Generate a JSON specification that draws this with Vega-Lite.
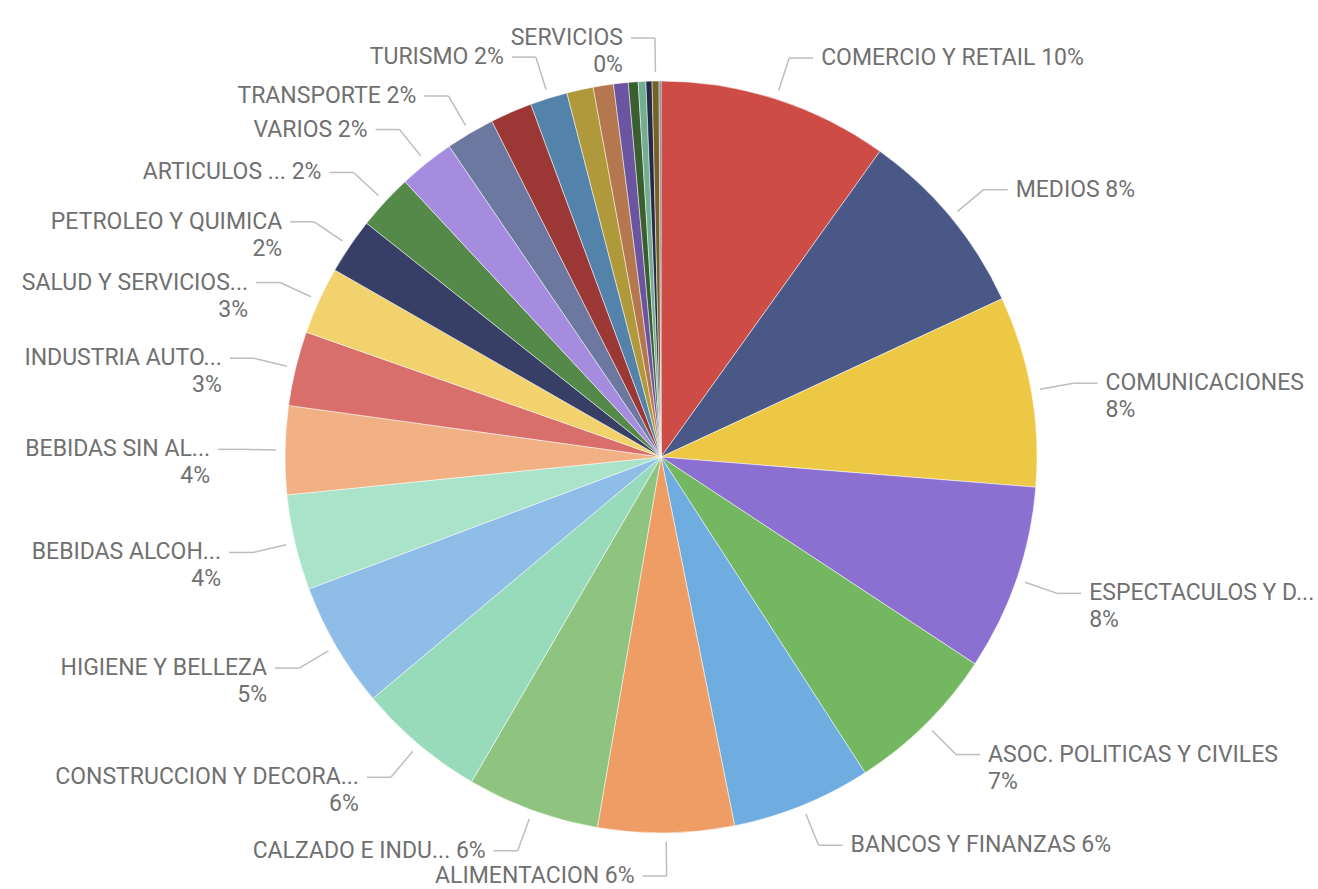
{
  "$schema": "https://vega.github.io/schema/vega-lite/v6.json",
  "width": 1318,
  "height": 889,
  "autosize": {"type": "none"},
  "padding": 0,
  "background": "white",
  "config": {"view": {"stroke": null}, "text": {"font": "Roboto"}},
  "data": {
    "values": [
      {"idx": 1, "name": "COMERCIO Y RETAIL", "value": 9.9, "label": "COMERCIO Y RETAIL 10%"},
      {"idx": 2, "name": "MEDIOS", "value": 8.2, "label": "MEDIOS 8%"},
      {"idx": 3, "name": "COMUNICACIONES", "value": 8.2, "label": "COMUNICACIONES\n8%"},
      {"idx": 4, "name": "ESPECTACULOS Y D...", "value": 8.0, "label": "ESPECTACULOS Y D...\n8%"},
      {"idx": 5, "name": "ASOC. POLITICAS Y CIVILES", "value": 6.6, "label": "ASOC. POLITICAS Y CIVILES\n7%"},
      {"idx": 6, "name": "BANCOS Y FINANZAS", "value": 6.0, "label": "BANCOS Y FINANZAS 6%"},
      {"idx": 7, "name": "ALIMENTACION", "value": 5.85, "label": "ALIMENTACION 6%"},
      {"idx": 8, "name": "CALZADO E INDU...", "value": 5.7, "label": "CALZADO E INDU... 6%"},
      {"idx": 9, "name": "CONSTRUCCION Y DECORA...", "value": 5.5, "label": "CONSTRUCCION Y DECORA...\n6%"},
      {"idx": 10, "name": "HIGIENE Y BELLEZA", "value": 5.4, "label": "HIGIENE Y BELLEZA\n5%"},
      {"idx": 11, "name": "BEBIDAS ALCOH...", "value": 4.1, "label": "BEBIDAS ALCOH...\n4%"},
      {"idx": 12, "name": "BEBIDAS SIN AL...", "value": 3.8, "label": "BEBIDAS SIN AL...\n4%"},
      {"idx": 13, "name": "INDUSTRIA AUTO...", "value": 3.2, "label": "INDUSTRIA AUTO...\n3%"},
      {"idx": 14, "name": "SALUD Y SERVICIOS...", "value": 2.9, "label": "SALUD Y SERVICIOS...\n3%"},
      {"idx": 15, "name": "PETROLEO Y QUIMICA", "value": 2.4, "label": "PETROLEO Y QUIMICA\n2%"},
      {"idx": 16, "name": "ARTICULOS ...", "value": 2.4, "label": "ARTICULOS ... 2%"},
      {"idx": 17, "name": "VARIOS", "value": 2.4, "label": "VARIOS 2%"},
      {"idx": 18, "name": "TRANSPORTE", "value": 2.1, "label": "TRANSPORTE 2%"},
      {"idx": 19, "name": "OTROS 1", "value": 1.8, "label": null},
      {"idx": 20, "name": "TURISMO", "value": 1.6, "label": "TURISMO 2%"},
      {"idx": 21, "name": "OTROS 2", "value": 1.14, "label": null},
      {"idx": 22, "name": "OTROS 3", "value": 0.87, "label": null},
      {"idx": 23, "name": "OTROS 4", "value": 0.63, "label": null},
      {"idx": 24, "name": "OTROS 5", "value": 0.42, "label": null},
      {"idx": 25, "name": "OTROS 6", "value": 0.33, "label": null},
      {"idx": 26, "name": "OTROS 7", "value": 0.26, "label": null},
      {"idx": 27, "name": "SERVICIOS", "value": 0.3, "label": "SERVICIOS\n0%"},
      {"idx": 28, "name": "OTROS 8", "value": 0.08, "label": null}
    ]
  },
  "transform": [
    {"joinaggregate": [{"op": "sum", "field": "value", "as": "total"}]},
    {"window": [{"op": "sum", "field": "value", "as": "cum"}], "sort": [{"field": "idx", "order": "ascending"}], "frame": [null, 0]},
    {"calculate": "2*PI*(datum.cum - datum.value/2)/datum.total", "as": "mid"},
    {"calculate": "datum.mid < 0.98*PI ? 1 : -1", "as": "side"},
    {"calculate": "661 + 385*sin(datum.mid)", "as": "sx"},
    {"calculate": "457 - 385*cos(datum.mid)", "as": "sy"},
    {"calculate": "661 + 419*sin(datum.mid)", "as": "ex"},
    {"calculate": "457 - 419*cos(datum.mid)", "as": "ey"},
    {"calculate": "datum.ex + 24*datum.side", "as": "hx"},
    {"calculate": "datum.hx + 8*datum.side", "as": "tx"}
  ],
  "layer": [
    {
      "mark": {"type": "arc", "outerRadius": 376, "stroke": "white", "strokeWidth": 0.5},
      "encoding": {
        "theta": {"field": "value", "type": "quantitative", "stack": true},
        "order": {"field": "idx", "type": "quantitative"},
        "color": {
          "field": "name",
          "type": "nominal",
          "legend": null,
          "scale": {
            "domain": ["COMERCIO Y RETAIL", "MEDIOS", "COMUNICACIONES", "ESPECTACULOS Y D...", "ASOC. POLITICAS Y CIVILES", "BANCOS Y FINANZAS", "ALIMENTACION", "CALZADO E INDU...", "CONSTRUCCION Y DECORA...", "HIGIENE Y BELLEZA", "BEBIDAS ALCOH...", "BEBIDAS SIN AL...", "INDUSTRIA AUTO...", "SALUD Y SERVICIOS...", "PETROLEO Y QUIMICA", "ARTICULOS ...", "VARIOS", "TRANSPORTE", "OTROS 1", "TURISMO", "OTROS 2", "OTROS 3", "OTROS 4", "OTROS 5", "OTROS 6", "OTROS 7", "SERVICIOS", "OTROS 8"],
            "range": ["#CD4C46", "#4A5888", "#ECC845", "#8C70D1", "#73B761", "#6FADE0", "#EE9E64", "#8FC480", "#97DBBB", "#8EBDE8", "#A9E3C9", "#F1B184", "#D86F6B", "#F1D26D", "#373F66", "#55894A", "#A68CDF", "#6C78A0", "#9B3735", "#5382AA", "#B0993A", "#B5774D", "#6B54A0", "#3A5E30", "#72AE92", "#242B48", "#766226", "#5A7A9A"]
          }
        },
        "x": {"datum": 661, "type": "quantitative", "scale": {"domain": [0, 1318], "nice": false, "zero": false}, "axis": null},
        "y": {"datum": 457, "type": "quantitative", "scale": {"domain": [0, 889], "reverse": true, "nice": false, "zero": false}, "axis": null}
      }
    },
    {
      "transform": [{"filter": "datum.label != null"}],
      "mark": {"type": "rule", "color": "#BDBDBD", "strokeWidth": 1.5},
      "encoding": {
        "x": {"field": "sx", "type": "quantitative", "scale": {"domain": [0, 1318], "nice": false, "zero": false}, "axis": null},
        "y": {"field": "sy", "type": "quantitative", "scale": {"domain": [0, 889], "reverse": true, "nice": false, "zero": false}, "axis": null},
        "x2": {"field": "ex"},
        "y2": {"field": "ey"}
      }
    },
    {
      "transform": [{"filter": "datum.label != null"}],
      "mark": {"type": "rule", "color": "#BDBDBD", "strokeWidth": 1.5},
      "encoding": {
        "x": {"field": "ex", "type": "quantitative", "scale": {"domain": [0, 1318], "nice": false, "zero": false}, "axis": null},
        "y": {"field": "ey", "type": "quantitative", "scale": {"domain": [0, 889], "reverse": true, "nice": false, "zero": false}, "axis": null},
        "x2": {"field": "hx"}
      }
    },
    {
      "transform": [{"filter": "datum.label != null && datum.side > 0"}],
      "mark": {"type": "text", "align": "left", "baseline": "middle", "fontSize": 23, "color": "#707070", "lineBreak": "\n", "lineHeight": 27},
      "encoding": {
        "x": {"field": "tx", "type": "quantitative", "scale": {"domain": [0, 1318], "nice": false, "zero": false}, "axis": null},
        "y": {"field": "ey", "type": "quantitative", "scale": {"domain": [0, 889], "reverse": true, "nice": false, "zero": false}, "axis": null},
        "text": {"field": "label"}
      }
    },
    {
      "transform": [{"filter": "datum.label != null && datum.side < 0"}],
      "mark": {"type": "text", "align": "right", "baseline": "middle", "fontSize": 23, "color": "#707070", "lineBreak": "\n", "lineHeight": 27},
      "encoding": {
        "x": {"field": "tx", "type": "quantitative", "scale": {"domain": [0, 1318], "nice": false, "zero": false}, "axis": null},
        "y": {"field": "ey", "type": "quantitative", "scale": {"domain": [0, 889], "reverse": true, "nice": false, "zero": false}, "axis": null},
        "text": {"field": "label"}
      }
    }
  ]
}
